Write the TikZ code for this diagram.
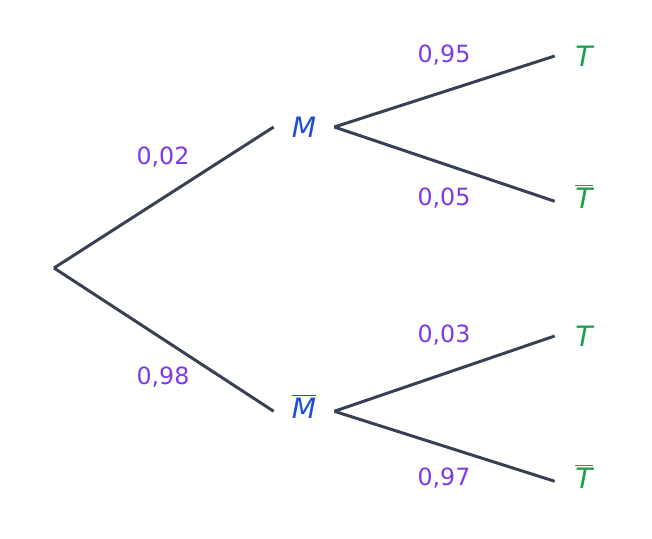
\documentclass[tikz,border=0pt]{standalone}
\usepackage{fontspec}
\setmainfont{DejaVu Sans}
\usetikzlibrary{positioning}
\definecolor{edgegray}{RGB}{55,65,81}
\definecolor{probpurple}{RGB}{124,58,237}
\definecolor{eventblue}{RGB}{29,78,216}
\definecolor{testgreen}{RGB}{22,163,74}
\begin{document}
\begin{tikzpicture}[x=0.02cm, y=-0.02cm,
			event/.style={draw=none, minimum width=1.2cm, inner sep=0pt, text=eventblue, font=\fontsize{16}{18}\selectfont\itshape},
			test/.style={draw=none, minimum width=1.16cm, inner sep=0pt, text=testgreen, font=\fontsize{16}{18}\selectfont\itshape},
			prob/.style={draw=none, text=probpurple, font=\fontsize{13.5}{15}\selectfont},
			branch/.style={line width=1.7pt, -, color=edgegray}
			]
			\useasboundingbox (0,0) rectangle (652,538);
			\coordinate (root) at (54,268);
			\node[event](m) at (304,127) {M};
			\node[event](mbar) at (304,406) {$\overline{\mbox{\itshape M}}$};
			
			\node[test](t1) at (584,56) {T};
			\node[test](t1bar) at (584,196) {$\overline{\mbox{\itshape T}}$};
			\node[test](t2) at (584,336) {T};
			\node[test](t2bar) at (584,476) {$\overline{\mbox{\itshape T}}$};
			
			\node[prob](p0) at (163,157) {0,02};
			\node[prob](p1) at (163,377) {0,98};
			\node[prob](p2) at (444,55) {0,95};
			\node[prob](p3) at (444,198) {0,05};
			\node[prob](p4) at (444,335) {0,03};
			\node[prob](p5) at (444,478) {0,97};
			
			\draw [branch] (root) to (m.west);
			\draw [branch] (root) to ([yshift=-3pt]mbar.west);
			\draw [branch] (m.east) to (t1.west);
			\draw [branch] (m.east) to ([yshift=-3pt]t1bar.west);
			\draw [branch] ([yshift=-3pt]mbar.east) to (t2.west);
			\draw [branch] ([yshift=-3pt]mbar.east) to ([yshift=-3pt]t2bar.west);
\end{tikzpicture}
\end{document}
